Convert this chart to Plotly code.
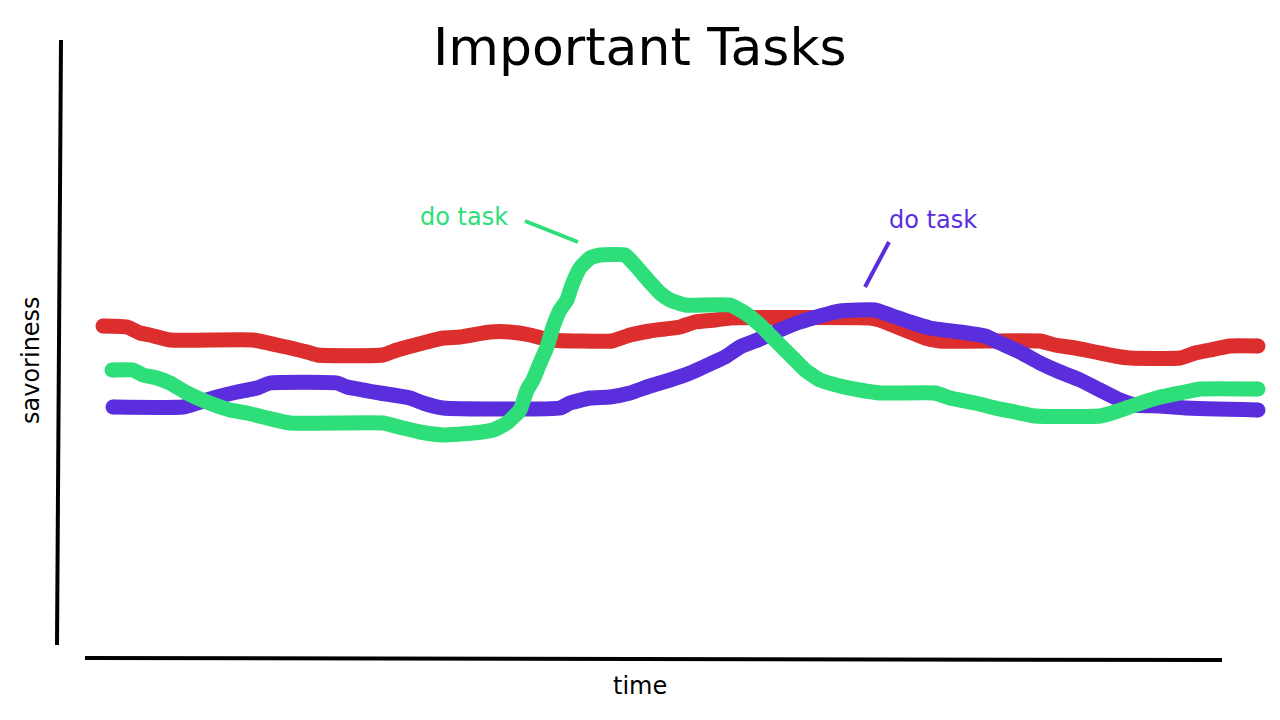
import plotly.graph_objects as go

# time (x) and savoriness (y)
red_x = [103, 127, 140, 150, 170, 253, 277, 307, 317, 383, 397, 423, 443, 460, 490, 510, 530, 550,
         612, 630, 650, 665, 680, 695, 715, 730, 870, 880, 895, 910, 925, 940, 1040, 1055, 1075,
         1095, 1115, 1130, 1180, 1195, 1210, 1230, 1258]
red_y = [394, 393, 387, 385, 380, 380, 375, 368, 365, 365, 370, 377, 382, 383, 388, 388, 385, 380,
         379, 385, 389, 391, 393, 398, 400, 402, 402, 400, 394, 388, 382, 379, 379, 375, 372,
         368, 364, 362, 362, 367, 370, 374, 374]

green_x = [112, 133, 143, 157, 170, 187, 207, 230, 247, 267, 290, 383, 403, 420, 443, 473, 493, 507,
           520, 527, 533, 540, 547, 553, 560, 567, 572, 580, 590, 600, 625, 635, 648, 660, 670,
           685, 730, 745, 760, 775, 790, 805, 820, 840, 860, 880, 935, 950, 975, 995, 1015, 1035,
           1100, 1115, 1135, 1160, 1185, 1200, 1258]
green_y = [350, 350, 345, 342, 337, 327, 318, 310, 307, 302, 297, 297, 292, 288, 285, 287, 290, 297,
           310, 330, 340, 357, 373, 393, 410, 420, 435, 452, 462, 465, 465, 455, 440, 427, 420,
           415, 415, 407, 395, 380, 365, 350, 340, 334, 330, 327, 327, 322, 317, 312, 308, 304,
           304, 308, 315, 323, 328, 331, 331]

purple_x = [113, 183, 197, 217, 237, 257, 270, 337, 347, 363, 380, 410, 423, 443, 560, 570, 590,
            610, 630, 650, 670, 690, 710, 725, 740, 760, 780, 800, 820, 840, 875, 890, 910, 930,
            960, 985, 1000, 1020, 1040, 1060, 1080, 1100, 1120, 1135, 1160, 1185, 1258]
purple_y = [313, 313, 317, 323, 328, 332, 337, 337, 333, 330, 327, 322, 317, 312, 312, 317, 322,
            323, 327, 334, 340, 347, 356, 363, 373, 381, 390, 398, 404, 409, 410, 405, 398, 392,
            388, 384, 377, 368, 357, 348, 340, 330, 320, 315, 314, 312, 310]

RED = "#dd2e2e"
GREEN = "#2ede78"
PURPLE = "#5b2edd"
LW = 15


def sketch_line(xs, ys, color):
    # round-ish caps: fat markers only on the two ends
    sizes = [LW] + [0] * (len(xs) - 2) + [LW]
    return go.Scatter(
        x=xs, y=ys, mode="lines+markers",
        line=dict(color=color, width=LW, shape="spline", smoothing=0.4),
        marker=dict(size=sizes, color=color, opacity=1, line=dict(width=0)),
        hoverinfo="skip", showlegend=False,
    )


fig = go.Figure()
fig.add_trace(sketch_line(red_x, red_y, RED))
fig.add_trace(sketch_line(purple_x, purple_y, PURPLE))
fig.add_trace(sketch_line(green_x, green_y, GREEN))

# hand-drawn axes
fig.add_shape(type="line", x0=61, y0=680, x1=57, y1=75, line=dict(color="black", width=4))
fig.add_shape(type="line", x0=85, y0=62, x1=1222, y1=60, line=dict(color="black", width=4))

# pointers for the callouts
fig.add_shape(type="line", x0=525, y0=499, x1=578, y1=478, line=dict(color=GREEN, width=4))
fig.add_shape(type="line", x0=889, y0=478, x1=865, y1=433, line=dict(color=PURPLE, width=4))

font = "DejaVu Sans"
fig.add_annotation(x=640, y=673, text="Important Tasks", showarrow=False,
                   font=dict(family=font, size=52, color="black"))
fig.add_annotation(x=640, y=34, text="time", showarrow=False,
                   font=dict(family=font, size=24, color="black"))
fig.add_annotation(x=31, y=360, text="savoriness", showarrow=False, textangle=-90,
                   font=dict(family=font, size=24, color="black"))
fig.add_annotation(x=464, y=503, text="do task", showarrow=False,
                   font=dict(family=font, size=24, color=GREEN))
fig.add_annotation(x=933, y=500, text="do task", showarrow=False,
                   font=dict(family=font, size=24, color=PURPLE))

# page body has an 8px margin, so the figure sits inside it at 1:1 scale
fig.update_layout(
    width=1264, height=704,
    margin=dict(l=0, r=0, t=0, b=0),
    paper_bgcolor="white", plot_bgcolor="white",
    xaxis=dict(range=[8, 1272], visible=False, fixedrange=True),
    yaxis=dict(range=[8, 712], visible=False, fixedrange=True),
)

fig.write_html("out.html")
